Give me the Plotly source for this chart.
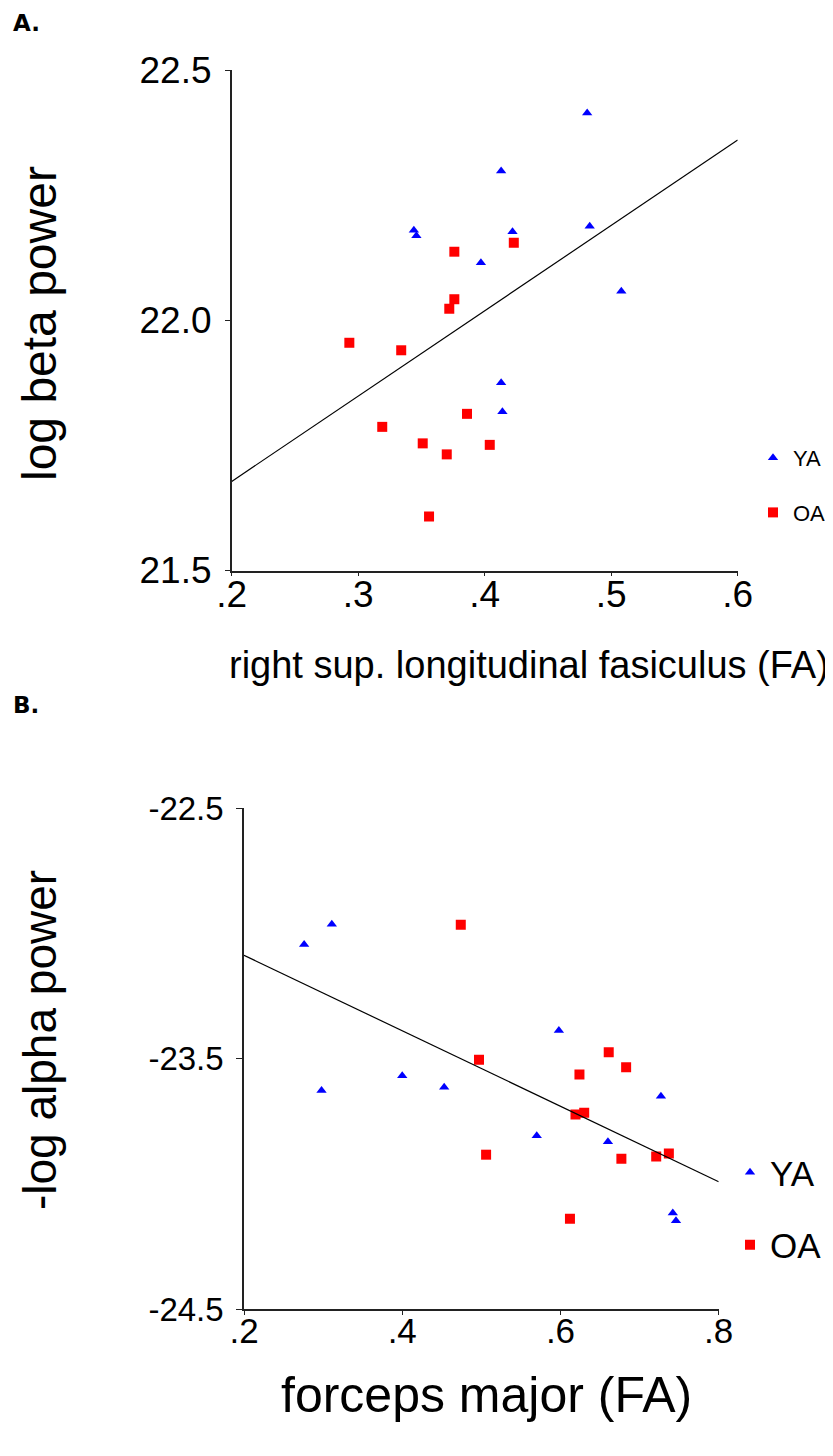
import plotly.graph_objects as go

W, H = 833, 1456

# ---------------- Panel A data ----------------
a_ya_x = [0.481, 0.413, 0.344, 0.346, 0.422, 0.483, 0.397, 0.508, 0.413, 0.414]
a_ya_y = [22.414, 22.298, 22.180, 22.169, 22.177, 22.188, 22.115, 22.058, 21.875, 21.817]
a_oa_x = [0.376, 0.423, 0.376, 0.372, 0.293, 0.334, 0.386, 0.319, 0.351, 0.370, 0.404, 0.356]
a_oa_y = [22.137, 22.155, 22.042, 22.023, 21.955, 21.940, 21.813, 21.787, 21.754, 21.732, 21.751, 21.608]
a_fit_x = [0.2, 0.6]
a_fit_y = [21.678, 22.36]
a_xticks = [0.2, 0.3, 0.4, 0.5, 0.6]
a_xtick_text = [".2", ".3", ".4", ".5", ".6"]
a_yticks = [21.5, 22.0, 22.5]
a_ytick_text = ["21.5", "22.0", "22.5"]

# ---------------- Panel B data ----------------
b_ya_x = [0.276, 0.311, 0.298, 0.400, 0.453, 0.570, 0.598, 0.727, 0.660, 0.742, 0.746]
b_ya_y = [-23.045, -22.964, -23.628, -23.569, -23.615, -23.808, -23.388, -23.651, -23.832, -24.117, -24.148]
b_oa_x = [0.474, 0.497, 0.506, 0.661, 0.683, 0.624, 0.619, 0.630, 0.677, 0.721, 0.737, 0.612]
b_oa_y = [-22.966, -23.505, -23.884, -23.475, -23.535, -23.564, -23.724, -23.717, -23.900, -23.891, -23.879, -24.140]
b_fit_x = [0.2, 0.8]
b_fit_y = [-23.088, -23.992]
b_xticks = [0.2, 0.4, 0.6, 0.8]
b_xtick_text = [".2", ".4", ".6", ".8"]
b_yticks = [-24.5, -23.5, -22.5]
b_ytick_text = ["-24.5", "-23.5", "-22.5"]

group_names = ["YA", "OA"]
BLUE = "#0000FF"
RED = "#FF0000"
FONT = "Liberation Sans, Arial, sans-serif"

# the page body adds an 8px offset; positions below are given in page pixels
OFF = 8


def px_x(p):
    return (p - OFF) / W


def px_y(p):
    return 1 - (p - OFF) / H


fig = go.Figure()

# Panel A
fig.add_trace(go.Scatter(x=a_ya_x, y=a_ya_y, mode="markers", name=group_names[0],
                         marker=dict(symbol="triangle-up", color=BLUE, size=9),
                         xaxis="x", yaxis="y", legend="legend", legendgroup="a_ya"))
fig.add_trace(go.Scatter(x=a_oa_x, y=a_oa_y, mode="markers", name=group_names[1],
                         marker=dict(symbol="square", color=RED, size=10),
                         xaxis="x", yaxis="y", legend="legend", legendgroup="a_oa"))
fig.add_trace(go.Scatter(x=a_fit_x, y=a_fit_y, mode="lines", showlegend=False,
                         line=dict(color="black", width=1.2), xaxis="x", yaxis="y"))

# Panel B
fig.add_trace(go.Scatter(x=b_ya_x, y=b_ya_y, mode="markers", name=group_names[0],
                         marker=dict(symbol="triangle-up", color=BLUE, size=9),
                         xaxis="x2", yaxis="y2", legend="legend2", legendgroup="b_ya"))
fig.add_trace(go.Scatter(x=b_oa_x, y=b_oa_y, mode="markers", name=group_names[1],
                         marker=dict(symbol="square", color=RED, size=10),
                         xaxis="x2", yaxis="y2", legend="legend2", legendgroup="b_oa"))
fig.add_trace(go.Scatter(x=b_fit_x, y=b_fit_y, mode="lines", showlegend=False,
                         line=dict(color="black", width=1.2), xaxis="x2", yaxis="y2"))

axis_common = dict(showline=True, linecolor="#222222", linewidth=1.5, ticks="outside",
                   tickwidth=1.2, tickcolor="#222222", showgrid=False,
                   zeroline=False, automargin=False)

fig.update_layout(
    width=W, height=H,
    margin=dict(l=0, r=0, t=0, b=0, autoexpand=False),
    paper_bgcolor="white", plot_bgcolor="white",
    xaxis=dict(domain=[px_x(231.7), px_x(737.7)], range=[0.2, 0.6], anchor="y",
               tickvals=a_xticks, ticktext=a_xtick_text, ticklen=4, ticklabelstandoff=-14,
               tickfont=dict(family=FONT, size=37, color="black"), **axis_common),
    yaxis=dict(domain=[px_y(570.5), px_y(70)], range=[21.5, 22.5], anchor="x",
               tickvals=a_yticks, ticktext=a_ytick_text, ticklen=5, ticklabelstandoff=6,
               tickfont=dict(family=FONT, size=37, color="black"), **axis_common),
    xaxis2=dict(domain=[px_x(244), px_x(718.7)], range=[0.2, 0.8], anchor="y2",
                tickvals=b_xticks, ticktext=b_xtick_text, ticklen=4, ticklabelstandoff=-14,
                tickfont=dict(family=FONT, size=35, color="black"), **axis_common),
    yaxis2=dict(domain=[px_y(1309), px_y(808)], range=[-24.5, -22.5], anchor="x2",
                tickvals=b_yticks, ticktext=b_ytick_text, ticklen=6, ticklabelstandoff=6,
                tickfont=dict(family=FONT, size=33, color="black"), **axis_common),
    legend=dict(x=px_x(753), y=px_y(437), xanchor="left", yanchor="top",
                font=dict(family=FONT, size=22, color="black"),
                bgcolor="rgba(0,0,0,0)", tracegroupgap=23, itemsizing="trace"),
    legend2=dict(x=px_x(730), y=px_y(1143), xanchor="left", yanchor="top",
                 font=dict(family=FONT, size=35, color="black"),
                 bgcolor="rgba(0,0,0,0)", tracegroupgap=24, itemsizing="trace"),
    showlegend=True,
)

annotations = [
    dict(text="<b>A.</b>", x=px_x(11), y=px_y(23), xanchor="left", yanchor="middle",
         font=dict(family="DejaVu Sans, Verdana, sans-serif", size=23, color="black")),
    dict(text="<b>B.</b>", x=px_x(11), y=px_y(705), xanchor="left", yanchor="middle",
         font=dict(family="DejaVu Sans, Verdana, sans-serif", size=23, color="black")),
    dict(text="right sup. longitudinal fasiculus (FA)", x=px_x(529), y=px_y(665),
         xanchor="center", yanchor="middle", font=dict(family=FONT, size=38, color="black")),
    dict(text="log beta power", x=px_x(39), y=px_y(324), textangle=-90,
         xanchor="center", yanchor="middle", font=dict(family=FONT, size=48, color="black")),
    dict(text="forceps major (FA)", x=px_x(486), y=px_y(1395),
         xanchor="center", yanchor="middle", font=dict(family=FONT, size=50, color="black")),
    dict(text="-log alpha power", x=px_x(40), y=px_y(1040), textangle=-90,
         xanchor="center", yanchor="middle", font=dict(family=FONT, size=46, color="black")),
]
for a in annotations:
    a.update(xref="paper", yref="paper", showarrow=False)
fig.update_layout(annotations=annotations)

fig.write_html("out.html")
